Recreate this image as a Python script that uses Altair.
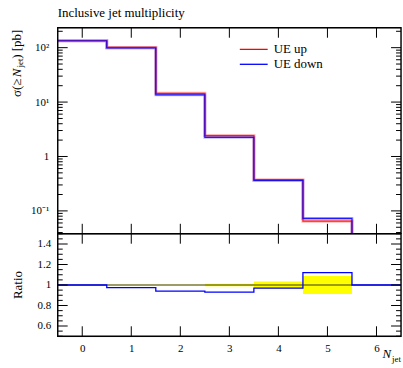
import altair as alt
import pandas as pd

# ---- values -------------------------------------------------------------
TITLE = "Inclusive jet multiplicity"
series = ["UE up", "UE down"]
colors = ["#ff0000", "#0000ff"]
edges = [-0.5, 0.5, 1.5, 2.5, 3.5, 4.5, 5.5, 6.5]
xsec_up = [134.0, 101.0, 14.5, 2.42, 0.374, 0.0648, 0.0]
xsec_down = [134.0, 98.5, 13.6, 2.25, 0.363, 0.0726, 0.0]
ratio_ref = [1.0, 1.0, 1.0, 1.0, 1.0, 1.0, 1.0]
ratio_down = [1.0, 0.975, 0.94, 0.93, 0.97, 1.12, 1.0]
ratio_err = [0.003, 0.003, 0.003, 0.013, 0.035, 0.087, 0.0]
x_ticks = [0, 1, 2, 3, 4, 5, 6]
main_major = [0.1, 1.0, 10.0, 100.0]
ratio_major = [0.6, 0.8, 1.0, 1.2, 1.4]

# ---- layout -------------------------------------------------------------
YMIN, YMAX = 0.038, 232.0
RMIN, RMAX = 0.5, 1.5
W, H1, H2 = 345, 207, 103
LEFT, TOP, RIGHT, BOTTOM = 57, 26, 1, 32
FONT = "Liberation Serif"

main_minor = [m * 10.0 ** e for e in range(-2, 3) for m in range(2, 10)
              if YMIN <= m * 10.0 ** e <= YMAX]
ratio_minor = [round(0.5 + 0.05 * i, 2) for i in range(21)]
ratio_minor = [v for v in ratio_minor if all(abs(v - m) > 1e-9 for m in ratio_major)]

xscale = alt.Scale(domain=[edges[0], edges[-1]], nice=False, zero=False)
yscale = alt.Scale(type="log", domain=[YMIN, YMAX], nice=False)
rscale = alt.Scale(domain=[RMIN, RMAX], nice=False, zero=False)
cscale = alt.Scale(domain=series, range=colors)


def steps(vals, name, floor=None):
    """Histogram outline as ordered (x, y) vertices."""
    rows, k, last = [], 0, None
    for i, v in enumerate(vals):
        if v > 0:
            rows.append({"x": edges[i], "y": v, "o": k, "s": name}); k += 1
            rows.append({"x": edges[i + 1], "y": v, "o": k, "s": name}); k += 1
            last = i
    if floor is not None and last is not None and last < len(vals) - 1:
        rows.append({"x": edges[last + 1], "y": floor, "o": k, "s": name})
    return rows


def one_row():
    return pd.DataFrame({"k": [0]})


def frame_box(y0, y1):
    """Invisible box fixing the outer margins of the figure."""
    return alt.Chart(one_row()).mark_rect(opacity=0).encode(
        x=alt.value(-LEFT), x2=alt.value(W + RIGHT), y=alt.value(y0), y2=alt.value(y1))


def border(h):
    """Black outline of a panel."""
    return alt.Chart(one_row()).mark_rect(
        filled=False, stroke="black", strokeWidth=1.4
    ).encode(x=alt.value(0), x2=alt.value(W), y=alt.value(0), y2=alt.value(h))


main_df = pd.DataFrame(steps(xsec_up, series[0], YMIN) + steps(xsec_down, series[1], YMIN))

y_axis = alt.Axis(values=main_major, ticks=False, domain=False, grid=False,
                  labelFont=FONT, labelFontSize=11, labelColor="black", labelPadding=9,
                  labelExpr="datum.value >= 50 ? '10²' : datum.value >= 5 ? '10¹' : "
                            "datum.value >= 0.5 ? '1' : '10⁻¹'",
                  title=None)

band = alt.Chart(main_df).mark_line(strokeWidth=3.0, opacity=0.28, clip=True).encode(
    x=alt.X("x:Q", scale=xscale, axis=None),
    y=alt.Y("y:Q", scale=yscale, axis=y_axis),
    order="o:Q", detail="s:N",
    color=alt.Color("s:N", scale=cscale, legend=None),
)
lines = alt.Chart(main_df).mark_line(strokeWidth=1.2, opacity=0.85, clip=True).encode(
    x=alt.X("x:Q", scale=xscale, axis=None),
    y=alt.Y("y:Q", scale=yscale, axis=y_axis),
    order="o:Q", detail="s:N",
    color=alt.Color("s:N", scale=cscale, legend=None),
)


def xtick_layers(h, axis):
    d = pd.DataFrame({"v": x_ticks})
    base = alt.Chart(d).mark_rule(color="black", strokeWidth=1)
    enc = dict(x=alt.X("v:Q", scale=xscale, axis=axis))
    return [base.encode(y=alt.value(0), y2=alt.value(10), **enc),
            base.encode(y=alt.value(h - 10), y2=alt.value(h), **enc)]


def ytick_layers(vals, scale, length, axis):
    d = pd.DataFrame({"v": vals})
    base = alt.Chart(d).mark_rule(color="black", strokeWidth=1)
    enc = dict(y=alt.Y("v:Q", scale=scale, axis=axis))
    return [base.encode(x=alt.value(0), x2=alt.value(length), **enc),
            base.encode(x=alt.value(W - length), x2=alt.value(W), **enc)]


def label(text, x, y, size=13, angle=0, align="left", baseline="alphabetic", italic=False):
    return alt.Chart(pd.DataFrame({"t": [text]})).mark_text(
        font=FONT, fontSize=size, angle=angle, align=align, baseline=baseline,
        fontStyle="italic" if italic else "normal", color="black",
    ).encode(text="t:N", x=alt.value(x), y=alt.value(y))


legend_layers = []
for i, name in enumerate(series):
    yv = 21.7 + 15 * i
    d = pd.DataFrame({"s": [name]})
    legend_layers.append(alt.Chart(d).mark_rule(strokeWidth=1.3).encode(
        x=alt.value(183), x2=alt.value(211), y=alt.value(yv),
        color=alt.Color("s:N", scale=cscale, legend=None)))
    legend_layers.append(alt.Chart(d).mark_text(
        font=FONT, fontSize=13, align="left", baseline="middle", color="black"
    ).encode(text="s:N", x=alt.value(217), y=alt.value(yv)))

# rotated y title: sigma(>= N_jet) [pb], written piecewise for the subscript
ty, tx = 2, -41
ytitle = [
    label(") [pb]", tx, ty, angle=270, align="right", baseline="middle"),
    label("jet", tx + 3, ty + 29, size=9, angle=270, align="right", baseline="middle"),
    label("N", tx, ty + 39, angle=270, align="right", baseline="middle", italic=True),
    label("σ(≥ ", tx, ty + 49, angle=270, align="right", baseline="middle"),
]

main = alt.layer(
    band, lines,
    *xtick_layers(H1, None),
    *ytick_layers(main_major, yscale, 10, y_axis),
    *ytick_layers(main_minor, yscale, 5, y_axis),
    *legend_layers,
    label(TITLE, 0, -11, size=13),
    *ytitle,
    border(H1),
    frame_box(-TOP, H1),
).properties(width=W, height=H1)

# ---- ratio panel --------------------------------------------------------
rect_df = pd.DataFrame({"lo": edges[:-1], "hi": edges[1:],
                        "a": [1 - e for e in ratio_err], "b": [1 + e for e in ratio_err]})
ref_df = pd.DataFrame(steps(ratio_ref, series[0]))
down_df = pd.DataFrame(steps(ratio_down, series[1]))

r_axis = alt.Axis(values=ratio_major, ticks=False, domain=False, grid=False,
                  labelFont=FONT, labelFontSize=11, labelColor="black", labelPadding=7,
                  labelExpr="abs(datum.value - 1) < 1e-6 ? '1' : format(datum.value, '.1f')",
                  title=None)
x_axis = alt.Axis(values=x_ticks, ticks=False, domain=False, grid=False, format="d",
                  labelFont=FONT, labelFontSize=11, labelColor="black", labelPadding=6,
                  title=None)

err = alt.Chart(rect_df).mark_rect(color="#ffff00", clip=True).encode(
    x=alt.X("lo:Q", scale=xscale, axis=x_axis), x2="hi:Q",
    y=alt.Y("a:Q", scale=rscale, axis=r_axis), y2="b:Q",
)
ref = alt.Chart(ref_df).mark_line(color="#3a3a14", strokeWidth=1.2, clip=True).encode(
    x=alt.X("x:Q", scale=xscale, axis=x_axis),
    y=alt.Y("y:Q", scale=rscale, axis=r_axis), order="o:Q",
)
down = alt.Chart(down_df).mark_line(color="#0000ff", strokeWidth=1.3, clip=True).encode(
    x=alt.X("x:Q", scale=xscale, axis=x_axis),
    y=alt.Y("y:Q", scale=rscale, axis=r_axis), order="o:Q",
)

ratio = alt.layer(
    err, ref, down,
    *xtick_layers(H2, x_axis),
    *ytick_layers(ratio_major, rscale, 10, r_axis),
    *ytick_layers(ratio_minor, rscale, 5, r_axis),
    label("Ratio", -40, H2 / 2, angle=270, align="center", baseline="middle"),
    label("jet", W, H2 + 26, size=9, align="right"),
    label("N", W - 10, H2 + 22, italic=True, align="right"),
    border(H2),
    frame_box(0, H2 + BOTTOM),
).properties(width=W, height=H2)

chart = alt.vconcat(main, ratio, spacing=0, bounds="flush").properties(
    padding=0,
).configure_view(stroke="transparent").configure(background="white")

chart.save("out.html", embed_options={"renderer": "svg", "actions": False})
